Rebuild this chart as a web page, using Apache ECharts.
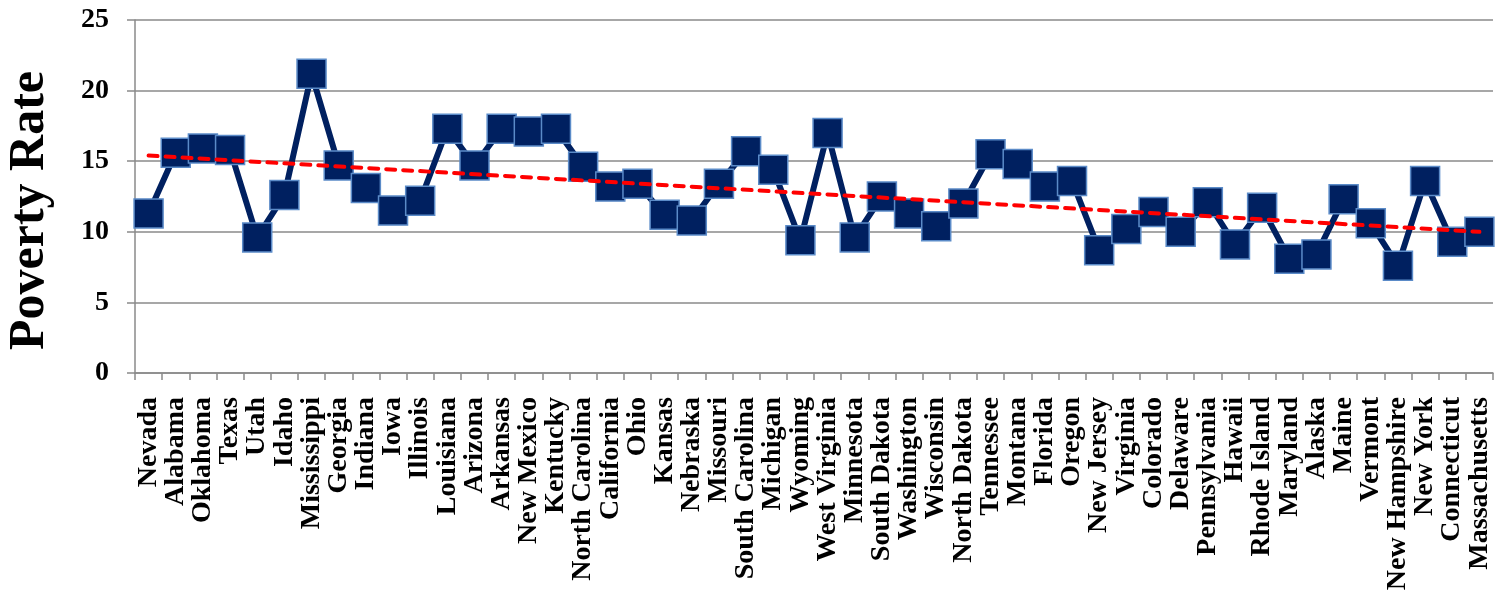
<!DOCTYPE html>
<html>
<head>
<meta charset="utf-8">
<script src="https://cdn.jsdelivr.net/npm/echarts@6/dist/echarts.min.js"></script>
<style>
  html, body { margin: 0; padding: 0; background: #fff; }
  #chart { width: 1496px; height: 592px; }
</style>
</head>
<body>
<div id="chart"></div>
<script>
// states, in the order of the chart
var states = ['Nevada', 'Alabama', 'Oklahoma', 'Texas', 'Utah', 'Idaho', 'Mississippi', 'Georgia',
    'Indiana', 'Iowa', 'Illinois', 'Louisiana', 'Arizona', 'Arkansas', 'New Mexico', 'Kentucky',
    'North Carolina', 'California', 'Ohio', 'Kansas', 'Nebraska', 'Missouri', 'South Carolina',
    'Michigan', 'Wyoming', 'West Virginia', 'Minnesota', 'South Dakota', 'Washington', 'Wisconsin',
    'North Dakota', 'Tennessee', 'Montana', 'Florida', 'Oregon', 'New Jersey', 'Virginia',
    'Colorado', 'Delaware', 'Pennsylvania', 'Hawaii', 'Rhode Island', 'Maryland', 'Alaska',
    'Maine', 'Vermont', 'New Hampshire', 'New York', 'Connecticut', 'Massachusetts'];

var povertyRate = [11.3, 15.6, 15.9, 15.8, 9.6, 12.6, 21.2, 14.7,
    13.1, 11.5, 12.2, 17.3, 14.7, 17.3, 17.1, 17.3,
    14.6, 13.2, 13.4, 11.2, 10.8, 13.4, 15.7,
    14.4, 9.4, 17.0, 9.6, 12.5, 11.3, 10.4,
    12.0, 15.5, 14.8, 13.2, 13.6, 8.7, 10.2,
    11.4, 10.0, 12.1, 9.1, 11.7, 8.1, 8.4,
    12.3, 10.6, 7.6, 13.6, 9.3, 10.0];

// linear trend, start and end values
var trendEnds = [15.4, 10.0];

var yTicks = [0, 25, 5];   // min, max, step

var chart = echarts.init(document.getElementById('chart'));

var fontFam = '"Liberation Serif", "DejaVu Serif", serif';
var gridGray = '#8a8a8a';

var option = {
    backgroundColor: '#fff',
    animation: false,
    grid: {
        left: 135,
        right: 3,
        top: 20,
        bottom: 219,
        outerBoundsMode: 'none',
        containLabel: false
    },
    xAxis: {
        type: 'category',
        data: states,
        boundaryGap: true,
        axisLine: { lineStyle: { color: gridGray, width: 1.5 } },
        axisTick: { show: true, length: 7, lineStyle: { color: gridGray, width: 1.5 } },
        axisLabel: {
            interval: 0,
            rotate: 90,
            margin: 24,
            color: '#000',
            fontFamily: fontFam,
            fontWeight: 'bold',
            fontSize: 28
        }
    },
    yAxis: {
        type: 'value',
        min: yTicks[0],
        max: yTicks[1],
        interval: yTicks[2],
        name: 'Poverty Rate',
        nameLocation: 'middle',
        nameGap: 80,
        nameRotate: 90,
        nameTextStyle: {
            color: '#000',
            fontFamily: fontFam,
            fontWeight: 'bold',
            fontSize: 50,
            padding: [0, 28, 0, 0]
        },
        axisLine: { show: true, lineStyle: { color: gridGray, width: 1.5 } },
        axisTick: { show: true, length: 8, lineStyle: { color: gridGray, width: 1.5 } },
        axisLabel: {
            margin: 26,
            color: '#000',
            fontFamily: fontFam,
            fontWeight: 'bold',
            fontSize: 28
        },
        splitLine: { lineStyle: { color: gridGray, width: 1.5 } }
    },
    series: [{
            name: 'Poverty Rate',
            type: 'line',
            data: povertyRate,
            symbol: 'rect',
            symbolSize: 29,
            lineStyle: { color: '#002060', width: 6 },
            itemStyle: {
                color: '#002060',
                borderColor: '#5b8bc8',
                borderWidth: 1.5
            },
            z: 2
        },
        {
            name: 'Trend',
            type: 'line',
            data: [[states[0], trendEnds[0]], [states[states.length - 1], trendEnds[1]]],
            symbol: 'none',
            lineStyle: {
                color: '#ff0000',
                width: 4,
                type: [9, 8],
                cap: 'round'
            },
            z: 3
        }
    ]
};
chart.setOption(option);
</script>
</body>
</html>
